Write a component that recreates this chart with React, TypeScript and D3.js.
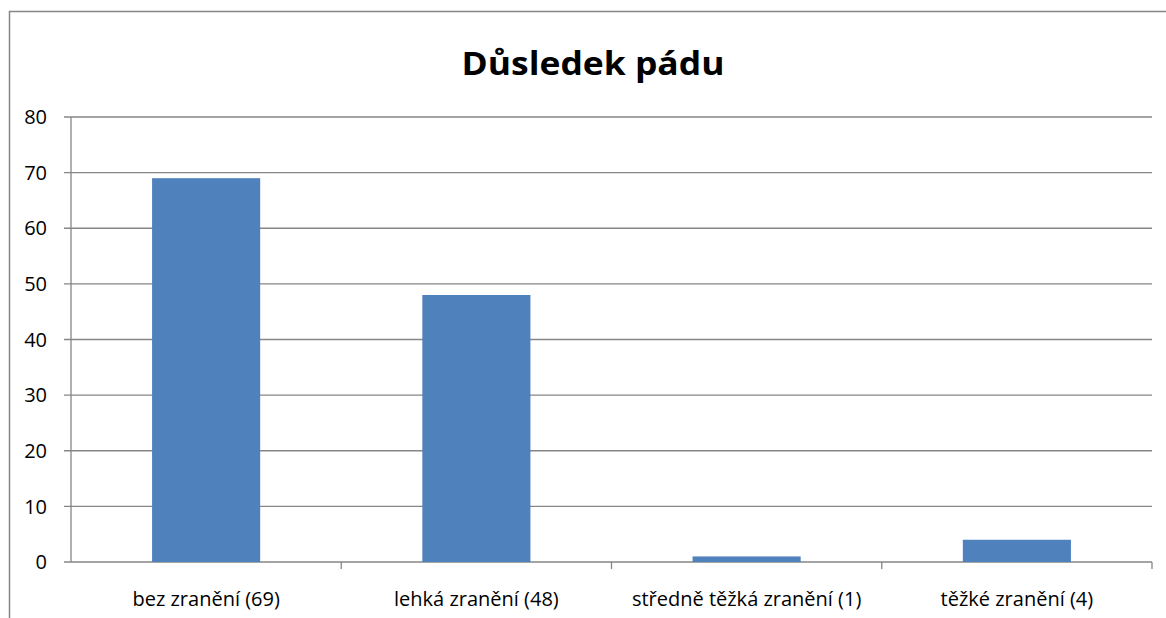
import * as d3 from "d3"
import React from "react"

const categories = ["bez zranění (69)", "lehká zranění (48)", "středně těžká zranění (1)", "těžké zranění (4)"]
const values = [69, 48, 1, 4]
const yTicks = [0, 10, 20, 30, 40, 50, 60, 70, 80]
const title = "Důsledek pádu"

const W = 1166
const H = 618
const font = "'Open Sans', 'Noto Sans', sans-serif"

export default function App() {
  const left = 71
  const right = 1152
  const top = 117
  const bottom = 562

  const x = d3.scaleBand().domain(categories).range([left, right]).paddingInner(0.6).paddingOuter(0.3)
  const y = d3.scaleLinear().domain([0, 80]).range([bottom, top])
  const step = x.step()
  const grid = "#868686"

  return (
    <svg width={W} height={H} style={{ position: "absolute", left: 0, top: 0, background: "#fff" }}>
      <rect width={W} height={H} fill="#fff" />
      {/* chart frame */}
      <path d={`M9.5,${H} V11.5 H${W}`} fill="none" stroke={grid} strokeWidth={1.5} />
      <text x={593} y={75} textAnchor="middle" fontFamily={font} fontWeight="bold" fontSize={32} fill="#000" textLength={263} lengthAdjust="spacingAndGlyphs">{title}</text>

      {yTicks.map(t => (
        <g key={t}>
          <line x1={left - 7} x2={right} y1={y(t)} y2={y(t)} stroke={grid} strokeWidth={1.3} />
          <text x={47} y={y(t)} dy="0.36em" textAnchor="end" fontFamily={font} fontSize={20} fill="#000">{t}</text>
        </g>
      ))}
      <line x1={left} x2={left} y1={top} y2={bottom} stroke={grid} strokeWidth={1.3} />

      {categories.map((c, i) => (
        <line key={c} x1={left + step * (i + 1)} x2={left + step * (i + 1)} y1={bottom} y2={bottom + 7} stroke={grid} strokeWidth={1.3} />
      ))}

      {categories.map((c, i) => (
        <rect key={c} x={x(c)} y={y(values[i])} width={x.bandwidth()} height={y(0) - y(values[i])} fill="#4f81bd" />
      ))}

      {categories.map(c => (
        <text key={c} x={(x(c) ?? 0) + x.bandwidth() / 2} y={606} textAnchor="middle" fontFamily={font} fontSize={20} fill="#000">{c}</text>
      ))}
    </svg>
  )
}
